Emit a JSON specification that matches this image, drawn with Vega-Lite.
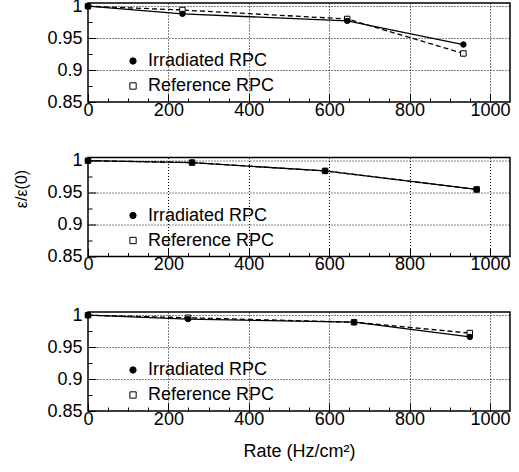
{
  "$schema": "https://vega.github.io/schema/vega-lite/v6.json",
  "padding": {"left": 13, "top": -4, "right": 2, "bottom": 5},
  "config": {
    "font": "Liberation Sans",
    "view": {"stroke": "black", "strokeWidth": 1.5},
    "axis": {
      "labelFontSize": 18, "labelColor": "black", "titleFontSize": 18, "titleFontWeight": "normal", "titleColor": "black",
      "domain": false, "tickColor": "black", "gridColor": "black", "gridDash": [1, 2], "gridWidth": 1, "tickCount": 100,
      "labelOverlap": false, "labelFlush": false
    },
    "legend": {"labelFontSize": 18, "labelColor": "black"}
  },
  "data": {"values": [
    {"panel": 1, "series": "Reference RPC", "rate": 0, "eff": 1.0},
    {"panel": 1, "series": "Reference RPC", "rate": 235, "eff": 0.994},
    {"panel": 1, "series": "Reference RPC", "rate": 645, "eff": 0.980},
    {"panel": 1, "series": "Reference RPC", "rate": 934, "eff": 0.926},
    {"panel": 1, "series": "Irradiated RPC", "rate": 0, "eff": 1.0},
    {"panel": 1, "series": "Irradiated RPC", "rate": 235, "eff": 0.988},
    {"panel": 1, "series": "Irradiated RPC", "rate": 645, "eff": 0.977},
    {"panel": 1, "series": "Irradiated RPC", "rate": 934, "eff": 0.940},
    {"panel": 2, "series": "Reference RPC", "rate": 0, "eff": 1.0},
    {"panel": 2, "series": "Reference RPC", "rate": 259, "eff": 0.997},
    {"panel": 2, "series": "Reference RPC", "rate": 590, "eff": 0.984},
    {"panel": 2, "series": "Reference RPC", "rate": 967, "eff": 0.955},
    {"panel": 2, "series": "Irradiated RPC", "rate": 0, "eff": 1.0},
    {"panel": 2, "series": "Irradiated RPC", "rate": 259, "eff": 0.997},
    {"panel": 2, "series": "Irradiated RPC", "rate": 590, "eff": 0.984},
    {"panel": 2, "series": "Irradiated RPC", "rate": 967, "eff": 0.955},
    {"panel": 3, "series": "Reference RPC", "rate": 0, "eff": 1.0},
    {"panel": 3, "series": "Reference RPC", "rate": 249, "eff": 0.996},
    {"panel": 3, "series": "Reference RPC", "rate": 662, "eff": 0.989},
    {"panel": 3, "series": "Reference RPC", "rate": 950, "eff": 0.972},
    {"panel": 3, "series": "Irradiated RPC", "rate": 0, "eff": 1.0},
    {"panel": 3, "series": "Irradiated RPC", "rate": 249, "eff": 0.994},
    {"panel": 3, "series": "Irradiated RPC", "rate": 662, "eff": 0.989},
    {"panel": 3, "series": "Irradiated RPC", "rate": 950, "eff": 0.966}
  ]},
  "spacing": 55.5,
  "bounds": "flush",
  "resolve": {"scale": {"shape": "independent", "fill": "independent"}},
  "vconcat": [
    {
      "width": 422, "height": 99,
      "transform": [{"filter": "datum.panel == 1"}],
      "layer": [
        {"transform": [{"filter": "datum.series == 'Irradiated RPC'"}],
         "mark": {"type": "line", "color": "black", "strokeWidth": 1.3},
         "encoding": {
           "x": {"field": "rate", "type": "quantitative", "scale": {"domain": [0, 1050], "nice": false},
             "axis": {"title": null, "values": [0,50,100,150,200,250,300,350,400,450,500,550,600,650,700,750,800,850,900,950,1000],
               "labelExpr": "datum.value % 200 === 0 ? datum.label : ''", "format": "d", "labelPadding": 7,
               "tickSize": {"condition": {"test": "datum.value % 200 === 0", "value": -8}, "value": -4},
               "gridOpacity": {"condition": {"test": "datum.value % 200 === 0 && datum.value > 0", "value": 1}, "value": 0}}},
           "y": {"field": "eff", "type": "quantitative", "scale": {"domain": [0.85, 1.005], "nice": false, "zero": false},
             "axis": {"title": null, "values": [0.85,0.875,0.9,0.925,0.95,0.975,1.0], "labelPadding": 14,
               "labelExpr": "round(datum.value*40) % 2 == 0 ? format(datum.value, '~g') : ''",
               "tickSize": {"condition": {"test": "round(datum.value*40) % 2 == 0", "value": -8}, "value": -4},
               "gridOpacity": {"condition": {"test": "round(datum.value*40) % 2 == 0 && datum.value > 0.86", "value": 1}, "value": 0}}}
         }},
        {"transform": [{"filter": "datum.series == 'Reference RPC'"}],
         "mark": {"type": "line", "color": "black", "strokeWidth": 1.3, "strokeDash": [5, 3]},
         "encoding": {
           "x": {"field": "rate", "type": "quantitative"},
           "y": {"field": "eff", "type": "quantitative"}
         }},
        {"mark": {"type": "point", "filled": true, "stroke": "black", "strokeWidth": 1, "opacity": 1, "size": 30},
         "encoding": {
           "x": {"field": "rate", "type": "quantitative"},
           "y": {"field": "eff", "type": "quantitative"},
           "shape": {"field": "series", "type": "nominal", "scale": {"domain": ["Irradiated RPC", "Reference RPC"], "range": ["circle", "square"]},
             "legend": {"title": null, "orient": "none", "legendX": 36, "legendY": 49, "rowPadding": 7, "symbolSize": 40, "labelOffset": 6, "symbolStrokeWidth": 1}},
           "fill": {"field": "series", "type": "nominal", "scale": {"domain": ["Irradiated RPC", "Reference RPC"], "range": ["black", "white"]},
             "legend": {"title": null, "orient": "none", "legendX": 36, "legendY": 49, "rowPadding": 7, "symbolSize": 40, "labelOffset": 6, "symbolStrokeWidth": 1}}
         }}
      ]
    },
    {
      "width": 422, "height": 99,
      "transform": [{"filter": "datum.panel == 2"}],
      "layer": [
        {"transform": [{"filter": "datum.series == 'Irradiated RPC'"}],
         "mark": {"type": "line", "color": "black", "strokeWidth": 1.3},
         "encoding": {
           "x": {"field": "rate", "type": "quantitative", "scale": {"domain": [0, 1050], "nice": false},
             "axis": {"title": null, "values": [0,50,100,150,200,250,300,350,400,450,500,550,600,650,700,750,800,850,900,950,1000],
               "labelExpr": "datum.value % 200 === 0 ? datum.label : ''", "format": "d", "labelPadding": 7,
               "tickSize": {"condition": {"test": "datum.value % 200 === 0", "value": -8}, "value": -4},
               "gridOpacity": {"condition": {"test": "datum.value % 200 === 0 && datum.value > 0", "value": 1}, "value": 0}}},
           "y": {"field": "eff", "type": "quantitative", "scale": {"domain": [0.85, 1.005], "nice": false, "zero": false},
             "axis": {"title": "ε/ε(0)", "titleFontSize": 16, "titlePadding": 17, "titleY": 31, "titleAlign": "center", "values": [0.85,0.875,0.9,0.925,0.95,0.975,1.0], "labelPadding": 14,
               "labelExpr": "round(datum.value*40) % 2 == 0 ? format(datum.value, '~g') : ''",
               "tickSize": {"condition": {"test": "round(datum.value*40) % 2 == 0", "value": -8}, "value": -4},
               "gridOpacity": {"condition": {"test": "round(datum.value*40) % 2 == 0 && datum.value > 0.86", "value": 1}, "value": 0}}}
         }},
        {"transform": [{"filter": "datum.series == 'Reference RPC'"}],
         "mark": {"type": "line", "color": "black", "strokeWidth": 1.3, "strokeDash": [5, 3]},
         "encoding": {
           "x": {"field": "rate", "type": "quantitative"},
           "y": {"field": "eff", "type": "quantitative"}
         }},
        {"mark": {"type": "point", "filled": true, "stroke": "black", "strokeWidth": 1, "opacity": 1, "size": 30},
         "encoding": {
           "x": {"field": "rate", "type": "quantitative"},
           "y": {"field": "eff", "type": "quantitative"},
           "shape": {"field": "series", "type": "nominal", "scale": {"domain": ["Irradiated RPC", "Reference RPC"], "range": ["circle", "square"]},
             "legend": {"title": null, "orient": "none", "legendX": 36, "legendY": 49, "rowPadding": 7, "symbolSize": 40, "labelOffset": 6, "symbolStrokeWidth": 1}},
           "fill": {"field": "series", "type": "nominal", "scale": {"domain": ["Irradiated RPC", "Reference RPC"], "range": ["black", "white"]},
             "legend": {"title": null, "orient": "none", "legendX": 36, "legendY": 49, "rowPadding": 7, "symbolSize": 40, "labelOffset": 6, "symbolStrokeWidth": 1}}
         }}
      ]
    },
    {
      "width": 422, "height": 99,
      "transform": [{"filter": "datum.panel == 3"}],
      "layer": [
        {"transform": [{"filter": "datum.series == 'Irradiated RPC'"}],
         "mark": {"type": "line", "color": "black", "strokeWidth": 1.3},
         "encoding": {
           "x": {"field": "rate", "type": "quantitative", "scale": {"domain": [0, 1050], "nice": false},
             "axis": {"title": "Rate (Hz/cm²)", "titlePadding": 10, "values": [0,50,100,150,200,250,300,350,400,450,500,550,600,650,700,750,800,850,900,950,1000],
               "labelExpr": "datum.value % 200 === 0 ? datum.label : ''", "format": "d", "labelPadding": 7,
               "tickSize": {"condition": {"test": "datum.value % 200 === 0", "value": -8}, "value": -4},
               "gridOpacity": {"condition": {"test": "datum.value % 200 === 0 && datum.value > 0", "value": 1}, "value": 0}}},
           "y": {"field": "eff", "type": "quantitative", "scale": {"domain": [0.85, 1.005], "nice": false, "zero": false},
             "axis": {"title": null, "values": [0.85,0.875,0.9,0.925,0.95,0.975,1.0], "labelPadding": 14,
               "labelExpr": "round(datum.value*40) % 2 == 0 ? format(datum.value, '~g') : ''",
               "tickSize": {"condition": {"test": "round(datum.value*40) % 2 == 0", "value": -8}, "value": -4},
               "gridOpacity": {"condition": {"test": "round(datum.value*40) % 2 == 0 && datum.value > 0.86", "value": 1}, "value": 0}}}
         }},
        {"transform": [{"filter": "datum.series == 'Reference RPC'"}],
         "mark": {"type": "line", "color": "black", "strokeWidth": 1.3, "strokeDash": [5, 3]},
         "encoding": {
           "x": {"field": "rate", "type": "quantitative"},
           "y": {"field": "eff", "type": "quantitative"}
         }},
        {"mark": {"type": "point", "filled": true, "stroke": "black", "strokeWidth": 1, "opacity": 1, "size": 30},
         "encoding": {
           "x": {"field": "rate", "type": "quantitative"},
           "y": {"field": "eff", "type": "quantitative"},
           "shape": {"field": "series", "type": "nominal", "scale": {"domain": ["Irradiated RPC", "Reference RPC"], "range": ["circle", "square"]},
             "legend": {"title": null, "orient": "none", "legendX": 36, "legendY": 49, "rowPadding": 7, "symbolSize": 40, "labelOffset": 6, "symbolStrokeWidth": 1}},
           "fill": {"field": "series", "type": "nominal", "scale": {"domain": ["Irradiated RPC", "Reference RPC"], "range": ["black", "white"]},
             "legend": {"title": null, "orient": "none", "legendX": 36, "legendY": 49, "rowPadding": 7, "symbolSize": 40, "labelOffset": 6, "symbolStrokeWidth": 1}}
         }}
      ]
    }
  ]
}
